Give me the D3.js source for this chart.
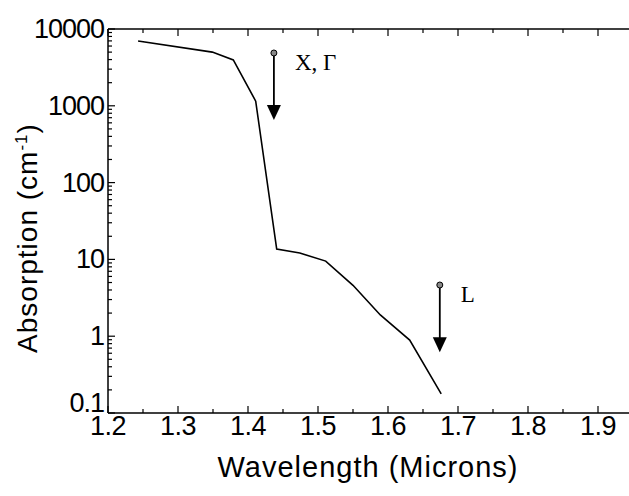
<!DOCTYPE html>
<html>
<head>
<meta charset="utf-8">
<script src="https://cdn.jsdelivr.net/npm/d3@7"></script>
<style>
  body { margin: 0; background: #fff; }
  svg { display: block; }
</style>
</head>
<body>
<div id="chart"></div>
<script>
// Absorption curve
const wavelength = [1.243, 1.349, 1.379, 1.411, 1.441, 1.474, 1.511, 1.550, 1.589, 1.631, 1.676];
const absorption = [6980, 5000, 3950, 1150, 13.6, 12.1, 9.5, 4.6, 1.89, 0.89, 0.177];

// Band-edge markers (x, top value, arrow tip value, label)
const markerLabels = ['X, \u0393', 'L'];
const markerX = [1.437, 1.674];
const markerTop = [4870, 4.64];
const markerTip = [653, 0.62];

const xTicks = [1.2, 1.3, 1.4, 1.5, 1.6, 1.7, 1.8, 1.9];
const yTicks = [0.1, 1, 10, 100, 1000, 10000];
const yTickLabels = ['0.1', '1', '10', '100', '1000', '10000'];

const width = 629;
const height = 496;
const margin = { left: 108, top: 29, right: -4, bottom: 83 };

const svg = d3.select('#chart')
    .append('svg')
    .attr('width', width)
    .attr('height', height);

const x = d3.scaleLinear()
    .domain([1.2, 1.95])
    .range([margin.left, width - margin.right]);

const y = d3.scaleLog()
    .domain([0.1, 10000])
    .range([height - margin.bottom, margin.top]);

const font = 'Arial, "Liberation Sans", sans-serif';

// axis frame
const x0 = margin.left, x1 = width - margin.right;
const y0 = height - margin.bottom, y1 = margin.top;

svg.append('line').attr('x1', x0).attr('x2', x0).attr('y1', y0).attr('y2', y1)
    .style('stroke', '#000').style('stroke-width', 1.5);
svg.append('line').attr('x1', x0).attr('x2', x1).attr('y1', y0).attr('y2', y0)
    .style('stroke', '#000').style('stroke-width', 1.5);
svg.append('line').attr('x1', x0).attr('x2', x1).attr('y1', y1).attr('y2', y1)
    .style('stroke', '#000').style('stroke-width', 1.5);

// x ticks (bottom and top, inward)
const xMinor = d3.range(1.25, 1.96, 0.1);
const ticksG = svg.append('g').style('stroke', '#000').style('stroke-width', 1.2);

xTicks.forEach(t => {
    ticksG.append('line').attr('x1', x(t)).attr('x2', x(t)).attr('y1', y0).attr('y2', y0 - 7);
    ticksG.append('line').attr('x1', x(t)).attr('x2', x(t)).attr('y1', y1).attr('y2', y1 + 7);
});
xMinor.forEach(t => {
    ticksG.append('line').attr('x1', x(t)).attr('x2', x(t)).attr('y1', y0).attr('y2', y0 - 4);
    ticksG.append('line').attr('x1', x(t)).attr('x2', x(t)).attr('y1', y1).attr('y2', y1 + 4);
});

// y ticks (left, inward), log minors
yTicks.forEach(t => {
    ticksG.append('line').attr('x1', x0).attr('x2', x0 + 7).attr('y1', y(t)).attr('y2', y(t));
});
yTicks.slice(0, -1).forEach(t => {
    for (let k = 2; k <= 9; k++) {
        ticksG.append('line').attr('x1', x0).attr('x2', x0 + 4)
            .attr('y1', y(t * k)).attr('y2', y(t * k));
    }
});

// tick labels
svg.append('g').selectAll('text')
    .data(xTicks)
    .enter()
    .append('text')
    .attr('x', d => x(d))
    .attr('y', y0 + 22)
    .attr('text-anchor', 'middle')
    .style('font-family', font)
    .style('font-size', '27px')
    .style('letter-spacing', '-0.5px')
    .text(d => d.toFixed(1));

svg.append('g').selectAll('text')
    .data(yTicks)
    .enter()
    .append('text')
    .attr('x', x0 - 4)
    .attr('y', (d, i) => y(d) + (i === 0 ? -1 : 9))
    .attr('text-anchor', 'end')
    .style('font-family', font)
    .style('font-size', '27px')
    .style('letter-spacing', '-1px')
    .text((d, i) => yTickLabels[i]);

// axis titles
svg.append('text')
    .attr('x', 368)
    .attr('y', 477)
    .attr('text-anchor', 'middle')
    .style('font-family', font)
    .style('font-size', '29px')
    .style('letter-spacing', '1px')
    .text('Wavelength (Microns)');

const yTitle = svg.append('text')
    .attr('transform', 'translate(37,238) rotate(-90)')
    .attr('text-anchor', 'middle')
    .style('font-family', font)
    .style('font-size', '28px')
    .style('letter-spacing', '1px');
yTitle.append('tspan').text('Absorption (cm');
yTitle.append('tspan').attr('dy', -10).style('font-size', '17px').text('-1');
yTitle.append('tspan').attr('dy', 10).text(')');

// curve
const line = d3.line()
    .x((d, i) => x(wavelength[i]))
    .y(d => y(d));

svg.append('path')
    .datum(absorption)
    .attr('d', line)
    .style('fill', 'none')
    .style('stroke', '#000')
    .style('stroke-width', 1.6);

// band-edge arrows
markerX.forEach((mx, i) => {
    const px = x(mx);
    const top = y(markerTop[i]);
    const tip = y(markerTip[i]);
    svg.append('line')
        .attr('x1', px).attr('x2', px)
        .attr('y1', top).attr('y2', tip - 12)
        .style('stroke', '#000').style('stroke-width', 1.8);
    svg.append('path')
        .attr('d', `M${px - 7},${tip - 15}L${px + 7},${tip - 15}L${px},${tip}Z`)
        .style('fill', '#000');
    svg.append('circle')
        .attr('cx', px).attr('cy', top).attr('r', 3)
        .style('fill', '#888').style('stroke', '#000').style('stroke-width', 1);
    svg.append('text')
        .attr('x', px + 21)
        .attr('y', top + 17)
        .style('font-family', '"Times New Roman", "Liberation Serif", serif')
        .style('font-size', '23px')
        .text(markerLabels[i]);
});
</script>
</body>
</html>
